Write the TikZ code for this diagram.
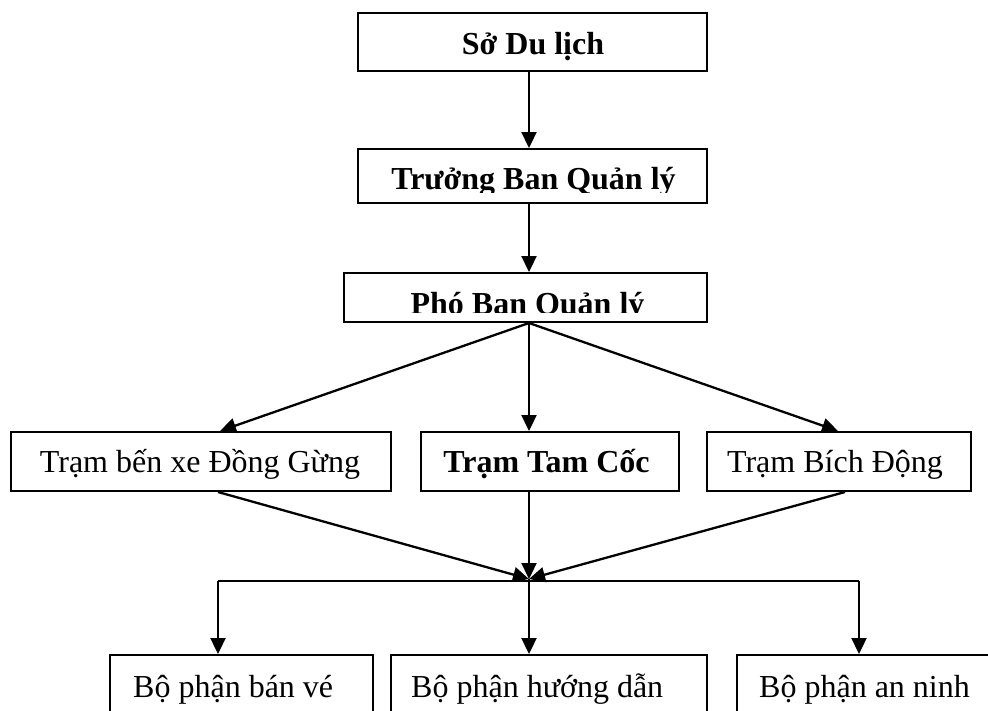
\documentclass[tikz,border=0pt]{standalone}
\usepackage{fontspec}
\setmainfont{Liberation Serif}
\usetikzlibrary{arrows.meta}
\begin{document}
\begin{tikzpicture}[x=1pt,y=-1pt,
  box/.style={draw, line width=2pt, inner sep=0pt, rectangle},
  lbl/.style={inner sep=0pt, anchor=base, font=\fontsize{32}{38}\selectfont},
  blbl/.style={inner sep=0pt, anchor=base, font=\fontsize{32}{38}\selectfont\bfseries},
  llbl/.style={inner sep=0pt, anchor=base west, font=\fontsize{32}{38}\selectfont},
  arr/.style={line width=2.3pt, -{Triangle[length=16pt,width=15pt]}},
  ln/.style={line width=2.2pt}]
\useasboundingbox (0,0) rectangle (988,710);
\clip (0,0) rectangle (988,710);
\fill[white] (0,0) rectangle (988,710);
% vertical axis reference
\coordinate (axis) at (529,0);
% top boxes
\node[box, minimum width=349pt, minimum height=58pt] (b1) at (532.5,42) {};
\node[blbl] (l1) at (533,54) {Sở Du lịch};
\node[box, minimum width=349pt, minimum height=54pt] (b2) at (532.5,176) {};
\begin{scope}
  \clip (360,151) rectangle (705,192);
  \node[blbl] (l2) at (533.5,189) {Trưởng Ban Quản lý};
\end{scope}
\node[box, minimum width=363pt, minimum height=49pt] (b3) at (525.5,297.5) {};
\begin{scope}
  \clip (346,275) rectangle (705,312.5);
  \node[blbl] (l3) at (527.5,314.5) {Phó Ban Quản lý};
\end{scope}
% stations
\node[box, minimum width=380pt, minimum height=59pt] (t1) at (201,461.5) {};
\node[lbl] (lt1) at (200,472) {Trạm bến xe Đồng Gừng};
\node[box, minimum width=258pt, minimum height=59pt] (t2) at (550,461.5) {};
\node[blbl] (lt2) at (546.5,472) {Trạm Tam Cốc};
\node[box, minimum width=264pt, minimum height=59pt] (t3) at (839,461.5) {};
\node[lbl] (lt3) at (835,472) {Trạm Bích Động};
% departments
\node[box, minimum width=263pt, minimum height=75pt] (d1) at (241.5,692.5) {};
\node[llbl] (ld1) at (133,697) {Bộ phận bán vé};
\node[box, minimum width=316pt, minimum height=75pt] (d2) at (549,692.5) {};
\node[llbl] (ld2) at (411,697) {Bộ phận hướng dẫn};
\node[box, minimum width=263pt, minimum height=75pt] (d3) at (868.5,692.5) {};
\node[llbl] (ld3) at (759,697) {Bộ phận an ninh};
% connectors top
\draw[arr] (b1.south -| axis) -- (b2.north -| axis);
\draw[arr] (b2.south -| axis) -- (b3.north -| axis);
\draw[arr] (b3.south -| axis) -- ([xshift=19pt]t1.north);
\draw[arr] (b3.south -| axis) -- (t2.north -| axis);
\draw[arr] (b3.south -| axis) -- ([xshift=-1pt]t3.north);
% merge
\coordinate (m) at (529,579);
\coordinate (hl) at (218,581);
\coordinate (hr) at (859,581);
\draw[arr] ([xshift=17pt]t1.south) -- (m);
\draw[arr] (t2.south -| axis) -- (m);
\draw[arr] ([xshift=6pt]t3.south) -- (m);
\draw[ln] (hl) -- (hr);
\draw[arr] (hl) -- (hl |- d1.north);
\draw[arr] (m) -- (d2.north -| axis);
\draw[arr] (hr) -- (hr |- d3.north);
\end{tikzpicture}
\end{document}
